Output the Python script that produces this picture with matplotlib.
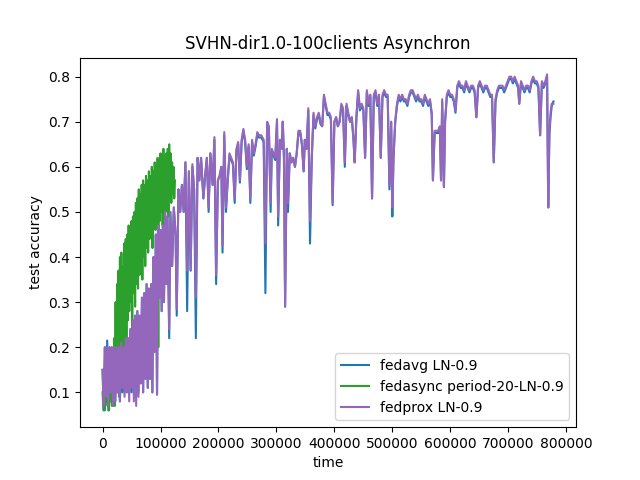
import numpy as np
import matplotlib
matplotlib.use("Agg")
import matplotlib.pyplot as plt

# time in thousands
prox_time_k = [
    0, 2, 4, 6, 8, 10, 12, 14, 16, 18,
    20, 22, 24, 26, 28, 30, 32, 34, 36, 38,
    40, 42, 44, 46, 48, 50, 52, 54, 56, 58,
    60, 62, 64, 66, 68, 70, 72, 74, 76, 78,
    80, 82, 84, 86, 88, 90, 92, 94, 96, 98,
    100, 102, 104, 106, 108, 110, 112, 115, 117, 120,
    123, 126, 128, 131, 134, 137, 140, 143, 146, 149,
    152, 155, 158, 161, 164, 167, 170, 174, 177, 180,
    183, 186, 190, 193, 196, 199, 202, 205, 207, 210,
    213, 216, 219, 222, 225, 228, 231, 234, 237, 240,
    243, 246, 249, 252, 255, 258, 261, 264, 267, 270,
    274, 278, 281, 284, 287, 290, 292, 295, 298, 301,
    303, 306, 309, 311, 313, 315, 318, 320, 323, 326,
    329, 332, 335, 338, 341, 344, 347, 349, 352, 355,
    358, 361, 364, 367, 370, 373, 376, 379, 382, 385,
    388, 391, 394, 397, 400, 403, 406, 409, 412, 415,
    418, 421, 424, 427, 430, 433, 435, 438, 441, 444,
    447, 450, 453, 456, 459, 462, 465, 468, 471, 474,
    477, 480, 483, 486, 489, 492, 495, 498, 500, 502,
    505, 508, 511, 514, 517, 520, 523, 526, 529, 532,
    535, 538, 541, 544, 547, 550, 553, 556, 559, 562,
    565, 568, 570, 573, 576, 579, 582, 584, 586, 589,
    591, 594, 597, 600, 603, 606, 609, 612, 615, 618,
    621, 624, 627, 630, 633, 636, 639, 642, 645, 648,
    651, 654, 657, 660, 663, 666, 669, 672, 675, 678,
    681, 684, 687, 690, 693, 696, 699, 702, 705, 708,
    711, 714, 717, 719, 722, 725, 728, 731, 734, 737,
    740, 743, 746, 749, 752, 755, 758, 761, 764, 767,
    769, 771, 773, 775, 778,
]

fedprox_acc = [
    0.15, 0.07, 0.20, 0.09, 0.20, 0.07, 0.20, 0.10, 0.20, 0.07,
    0.20, 0.08, 0.20, 0.10, 0.20, 0.08, 0.21, 0.11, 0.20, 0.09,
    0.22, 0.10, 0.22, 0.08, 0.24, 0.11, 0.26, 0.08, 0.27, 0.07,
    0.28, 0.09, 0.27, 0.12, 0.31, 0.10, 0.32, 0.13, 0.34, 0.11,
    0.33, 0.13, 0.34, 0.10, 0.40, 0.19, 0.45, 0.095, 0.47, 0.31,
    0.46, 0.28, 0.47, 0.30, 0.50, 0.34, 0.49, 0.24, 0.50, 0.38,
    0.51, 0.45, 0.285, 0.55, 0.50, 0.56, 0.50, 0.61, 0.37, 0.59,
    0.37, 0.606, 0.55, 0.31, 0.62, 0.57, 0.62, 0.53, 0.58, 0.62,
    0.51, 0.63, 0.56, 0.666, 0.36, 0.57, 0.58, 0.60, 0.425, 0.677,
    0.51, 0.57, 0.63, 0.62, 0.61, 0.53, 0.64, 0.655, 0.57, 0.66,
    0.684, 0.66, 0.60, 0.65, 0.53, 0.66, 0.63, 0.65, 0.677, 0.67,
    0.67, 0.66, 0.43, 0.70, 0.69, 0.52, 0.64, 0.63, 0.62, 0.706,
    0.49, 0.66, 0.64, 0.70, 0.62, 0.29, 0.64, 0.52, 0.63, 0.61,
    0.62, 0.60, 0.63, 0.68, 0.68, 0.65, 0.59, 0.66, 0.64, 0.73,
    0.48, 0.62, 0.72, 0.69, 0.71, 0.72, 0.70, 0.69, 0.76, 0.74,
    0.72, 0.72, 0.71, 0.52, 0.70, 0.71, 0.69, 0.70, 0.74, 0.73,
    0.61, 0.74, 0.72, 0.70, 0.71, 0.66, 0.61, 0.71, 0.77, 0.73,
    0.74, 0.73, 0.62, 0.77, 0.74, 0.76, 0.53, 0.76, 0.77, 0.74,
    0.76, 0.62, 0.76, 0.77, 0.76, 0.76, 0.56, 0.70, 0.51, 0.62,
    0.70, 0.74, 0.76, 0.75, 0.76, 0.75, 0.75, 0.74, 0.76, 0.77,
    0.77, 0.76, 0.75, 0.76, 0.75, 0.75, 0.74, 0.76, 0.75, 0.74,
    0.75, 0.72, 0.57, 0.68, 0.68, 0.68, 0.69, 0.57, 0.75, 0.555,
    0.70, 0.76, 0.77, 0.76, 0.76, 0.75, 0.725, 0.78, 0.79, 0.78,
    0.78, 0.77, 0.79, 0.78, 0.77, 0.78, 0.78, 0.77, 0.71, 0.78,
    0.79, 0.78, 0.77, 0.78, 0.78, 0.77, 0.76, 0.76, 0.61, 0.75,
    0.77, 0.78, 0.78, 0.78, 0.77, 0.78, 0.79, 0.80, 0.80, 0.79,
    0.80, 0.79, 0.78, 0.74, 0.79, 0.78, 0.77, 0.78, 0.78, 0.77,
    0.79, 0.80, 0.79, 0.79, 0.78, 0.67, 0.79, 0.78, 0.79, 0.805,
    0.51, 0.68, 0.72, 0.74, 0.74,
]

fedavg_acc = [
    0.15, 0.06, 0.20, 0.09, 0.215, 0.06, 0.20, 0.10, 0.20, 0.07,
    0.20, 0.08, 0.20, 0.10, 0.20, 0.08, 0.21, 0.10, 0.20, 0.10,
    0.22, 0.10, 0.22, 0.10, 0.24, 0.10, 0.26, 0.10, 0.27, 0.10,
    0.28, 0.10, 0.27, 0.12, 0.31, 0.10, 0.32, 0.13, 0.34, 0.11,
    0.33, 0.13, 0.34, 0.10, 0.40, 0.19, 0.45, 0.095, 0.47, 0.31,
    0.46, 0.28, 0.47, 0.30, 0.50, 0.34, 0.49, 0.22, 0.50, 0.38,
    0.51, 0.45, 0.27, 0.55, 0.50, 0.56, 0.50, 0.61, 0.28, 0.59,
    0.37, 0.60, 0.55, 0.22, 0.62, 0.57, 0.62, 0.53, 0.58, 0.62,
    0.50, 0.63, 0.56, 0.66, 0.34, 0.57, 0.58, 0.60, 0.41, 0.67,
    0.50, 0.57, 0.625, 0.615, 0.605, 0.52, 0.635, 0.65, 0.565, 0.655,
    0.68, 0.655, 0.595, 0.645, 0.52, 0.655, 0.625, 0.645, 0.67, 0.665,
    0.665, 0.655, 0.32, 0.695, 0.685, 0.50, 0.635, 0.625, 0.615, 0.70,
    0.47, 0.66, 0.64, 0.70, 0.62, 0.29, 0.64, 0.50, 0.63, 0.61,
    0.62, 0.60, 0.63, 0.675, 0.675, 0.65, 0.59, 0.66, 0.64, 0.725,
    0.43, 0.62, 0.715, 0.685, 0.705, 0.715, 0.695, 0.69, 0.755, 0.735,
    0.715, 0.715, 0.705, 0.515, 0.70, 0.71, 0.69, 0.70, 0.735, 0.725,
    0.60, 0.735, 0.715, 0.70, 0.71, 0.66, 0.61, 0.71, 0.765, 0.725,
    0.735, 0.725, 0.62, 0.765, 0.735, 0.755, 0.53, 0.755, 0.765, 0.735,
    0.755, 0.62, 0.755, 0.765, 0.755, 0.755, 0.55, 0.70, 0.49, 0.62,
    0.70, 0.735, 0.755, 0.745, 0.755, 0.745, 0.745, 0.735, 0.755, 0.765,
    0.765, 0.755, 0.745, 0.755, 0.745, 0.745, 0.735, 0.755, 0.745, 0.735,
    0.745, 0.715, 0.57, 0.675, 0.675, 0.675, 0.685, 0.57, 0.745, 0.555,
    0.70, 0.755, 0.765, 0.755, 0.755, 0.745, 0.72, 0.775, 0.785, 0.775,
    0.775, 0.765, 0.785, 0.775, 0.765, 0.775, 0.775, 0.765, 0.71, 0.775,
    0.785, 0.775, 0.765, 0.775, 0.775, 0.765, 0.755, 0.755, 0.61, 0.745,
    0.765, 0.775, 0.775, 0.775, 0.765, 0.775, 0.785, 0.795, 0.795, 0.785,
    0.795, 0.785, 0.775, 0.74, 0.785, 0.775, 0.765, 0.775, 0.775, 0.765,
    0.785, 0.795, 0.785, 0.785, 0.775, 0.67, 0.785, 0.775, 0.785, 0.80,
    0.51, 0.67, 0.71, 0.735, 0.745,
]

async_time_k = [
    0, 1.2, 2.5, 3.7, 5, 6.2, 7.5, 8.7, 10, 11.2,
    12.5, 13.7, 15, 16.2, 17.5, 18.7, 20, 21.2, 22.5, 23.7,
    25, 26.2, 27.5, 28.7, 30, 31.2, 32.5, 33.7, 35, 36.2,
    37.5, 38.7, 40, 41.2, 42.5, 43.7, 45, 46.2, 47.5, 48.7,
    50, 51.2, 52.5, 53.7, 55, 56.2, 57.5, 58.7, 60, 61.2,
    62.5, 63.7, 65, 66.2, 67.5, 68.7, 70, 71.2, 72.5, 73.7,
    75, 76.2, 77.5, 78.7, 80, 81.2, 82.5, 83.7, 85, 86.2,
    87.5, 88.7, 90, 91.2, 92.5, 93.7, 95, 96.2, 97.5, 98.7,
    100, 101.2, 102.5, 103.7, 105, 106.2, 107.5, 108.7, 110, 111.2,
    112.5, 113.7, 115, 116.2, 117.5, 118.7, 120, 121.2, 122.5, 123.7,
    125,
]

fedasync_acc = [
    0.10, 0.07, 0.14, 0.06, 0.12, 0.08, 0.15, 0.07, 0.13, 0.06,
    0.16, 0.08, 0.14, 0.07, 0.19, 0.08, 0.22, 0.07, 0.30, 0.10,
    0.34, 0.12, 0.37, 0.09, 0.40, 0.15, 0.41, 0.18, 0.38, 0.20,
    0.43, 0.22, 0.44, 0.20, 0.45, 0.26, 0.47, 0.28, 0.46, 0.30,
    0.48, 0.24, 0.49, 0.32, 0.50, 0.29, 0.52, 0.34, 0.53, 0.33,
    0.55, 0.36, 0.54, 0.38, 0.56, 0.35, 0.57, 0.40, 0.56, 0.38,
    0.58, 0.42, 0.57, 0.41, 0.59, 0.44, 0.58, 0.45, 0.60, 0.42,
    0.59, 0.47, 0.61, 0.46, 0.60, 0.49, 0.62, 0.20, 0.61, 0.48,
    0.63, 0.50, 0.62, 0.47, 0.64, 0.51, 0.62, 0.50, 0.63, 0.52,
    0.64, 0.49, 0.65, 0.53, 0.63, 0.52, 0.61, 0.54, 0.60, 0.53,
    0.57,
]

fig, ax = plt.subplots(figsize=(6.4, 4.8), dpi=100)
ax.plot(np.array(prox_time_k) * 1000, fedavg_acc, color="C0", label="fedavg LN-0.9")
ax.plot(np.array(async_time_k) * 1000, fedasync_acc, color="C2", label="fedasync period-20-LN-0.9")
ax.plot(np.array(prox_time_k) * 1000, fedprox_acc, color="C4", label="fedprox LN-0.9")
ax.set_title("SVHN-dir1.0-100clients Asynchron")
ax.set_xlabel("time")
ax.set_ylabel("test accuracy")
ax.legend(loc="lower right")
fig.savefig("out.png")
